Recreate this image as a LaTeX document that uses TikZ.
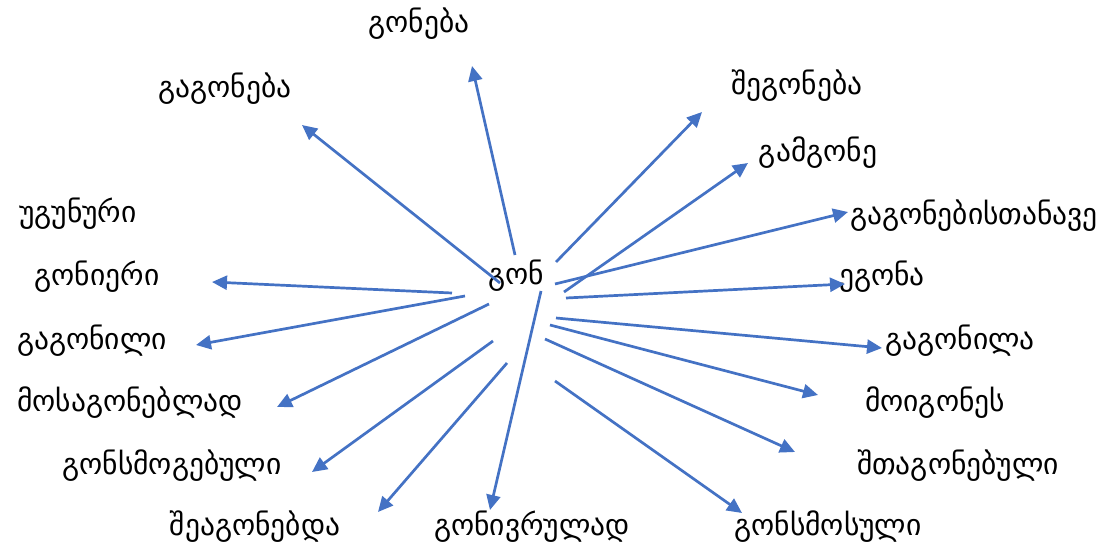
\documentclass[tikz,border=0pt]{standalone}
\usepackage{fontspec}
\newfontfamily\geo{DejaVu Sans}
\usetikzlibrary{arrows.meta}
\definecolor{arrowblue}{HTML}{4472C4}
\tikzset{
  word/.style={font=\geo\fontsize{29.5}{34}\selectfont, inner sep=0pt, text=black},
  link/.style={draw=arrowblue, line width=2.7pt, -{Triangle[length=15pt,width=14pt]}}
}
\begin{document}
\begin{tikzpicture}[x=1pt,y=-1pt]
\useasboundingbox (0,0) rectangle (1105,548);
% words
\node[word] (c) at (516,276) {გონ};
\node[word] (w1) at (419,24) {გონება};
\node[word] (w2) at (225,89) {გაგონება};
\node[word] (w3) at (797,86) {შეგონება};
\node[word] (w4) at (818,153) {გამგონე};
\node[word] (w5) at (78,214) {უგუნური};
\node[word] (w6) at (974,216) {გაგონებისთანავე};
\node[word] (w7) at (97,277) {გონიერი};
\node[word] (w8) at (882,277) {ეგონა};
\node[word] (w9) at (92,341) {გაგონილი};
\node[word] (w10) at (960,341) {გაგონილა};
\node[word] (w11) at (130,403) {მოსაგონებლად};
\node[word] (w12) at (935,403) {მოიგონეს};
\node[word] (w13) at (172,466) {გონსმოგებული};
\node[word] (w14) at (958,466) {შთაგონებული};
\node[word] (w15) at (255,527) {შეაგონებდა};
\node[word] (w16) at (532,527) {გონივრულად};
\node[word] (w17) at (828,527) {გონსმოსული};
% arrow ends
\coordinate (s1) at (515,255);  \coordinate (t1) at (472,66);
\coordinate (s2) at (500,283);  \coordinate (t2) at (302,125);
\coordinate (s3) at (556,262);  \coordinate (t3) at (702,112);
\coordinate (s4) at (564,292);  \coordinate (t4) at (748,163);
\coordinate (s5) at (555,284);  \coordinate (t5) at (848,212);
\coordinate (s6) at (566,298);  \coordinate (t6) at (845,284);
\coordinate (s7) at (556,318);  \coordinate (t7) at (882,348);
\coordinate (s8) at (550,325);  \coordinate (t8) at (818,395);
\coordinate (s9) at (545,339);  \coordinate (t9) at (795,452);
\coordinate (s10) at (555,381); \coordinate (t10) at (742,513);
\coordinate (s11) at (541,291); \coordinate (t11) at (490,510);
\coordinate (s12) at (507,363); \coordinate (t12) at (378,512);
\coordinate (s13) at (493,341); \coordinate (t13) at (312,472);
\coordinate (s14) at (489,304); \coordinate (t14) at (277,407);
\coordinate (s15) at (465,296); \coordinate (t15) at (196,345);
\coordinate (s16) at (452,293); \coordinate (t16) at (212,282);
\foreach \i in {1,...,16} { \draw[link] (s\i) -- (t\i); }
\end{tikzpicture}
\end{document}
